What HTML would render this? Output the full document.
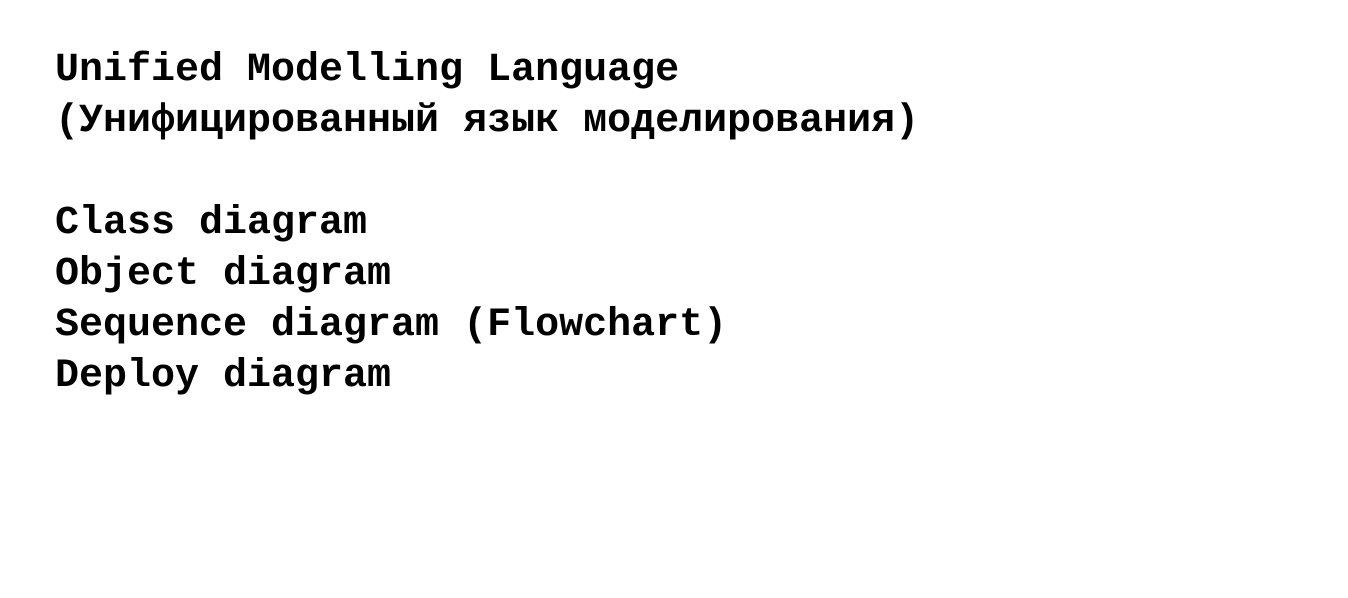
<!DOCTYPE html>
<html>
<head>
<meta charset="utf-8">
<style>
  html, body { margin:0; padding:0; background:#fff; width:1348px; height:598px; overflow:hidden; }
  pre {
    position:absolute; left:55px; top:45px; margin:0;
    font-family:"Liberation Mono", "DejaVu Sans Mono", monospace;
    font-weight:bold; font-size:40px; line-height:51px; color:#000;
  }
</style>
</head>
<body>
<pre>Unified Modelling Language
(Унифицированный язык моделирования)

Class diagram
Object diagram
Sequence diagram (Flowchart)
Deploy diagram</pre>
</body>
</html>
